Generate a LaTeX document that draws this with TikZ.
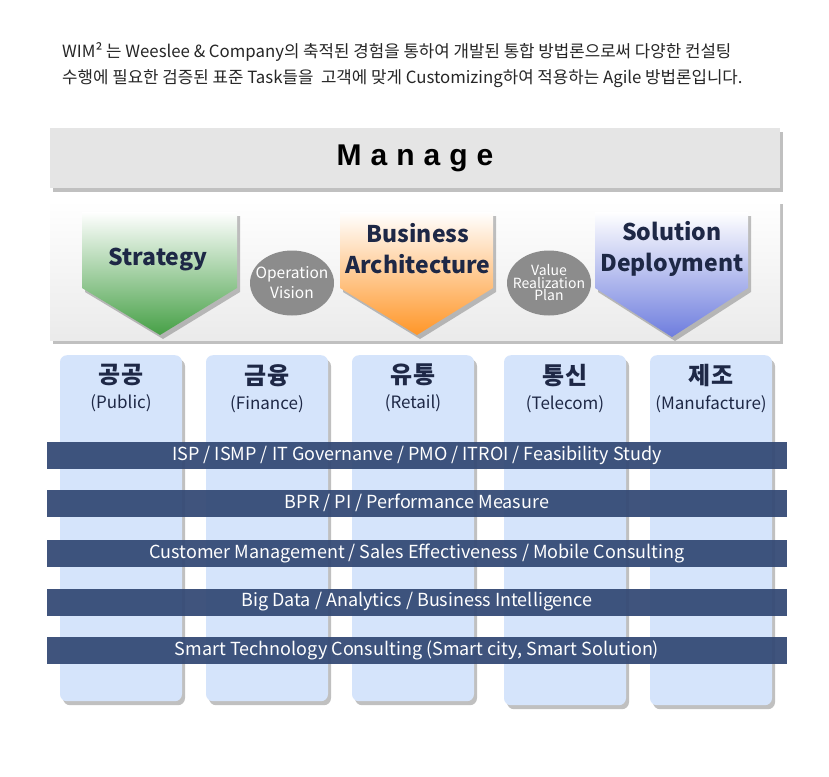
\documentclass[tikz,border=0pt]{standalone}
\usepackage{fontspec}
\setmainfont{Noto Sans CJK KR}
\newfontfamily\managefont[LetterSpace=30]{Liberation Sans}
\usetikzlibrary{shapes.geometric,shadows,positioning}
\definecolor{wimnavy}{RGB}{30,40,70}
\definecolor{wimband}{RGB}{50,72,116}
\definecolor{wimcol}{RGB}{213,228,251}
\definecolor{wimgray}{RGB}{140,140,140}
\definecolor{wimgreen}{RGB}{70,160,70}
\definecolor{wimorange}{RGB}{255,150,40}
\definecolor{wimblue}{RGB}{110,125,222}
\tikzset{
  softshadow/.style={drop shadow={shadow xshift=3pt,shadow yshift=-4pt,opacity=0.35,fill=black!70}},
  industry/.style={fill=wimcol,rounded corners=7pt,softshadow,minimum width=122pt,minimum height=346pt,anchor=north,inner sep=0pt},
  indtitle/.style={text=wimnavy,align=center,font=\fontsize{17}{25}\selectfont,inner sep=0pt},
  band/.style={fill=wimband,fill opacity=0.93,text opacity=1,text=white,minimum width=740pt,minimum height=27pt,inner sep=0pt,font=\fontsize{18}{20}\selectfont},
  bubble/.style={ellipse,fill=wimgray,text=white,minimum width=84pt,minimum height=65pt,inner sep=-12pt,align=center},
  phase/.style={text=wimnavy,align=center,font=\bfseries\fontsize{23}{31}\selectfont,inner sep=0pt}
}
\begin{document}
\begin{tikzpicture}[x=1pt,y=-1pt]
  \useasboundingbox[fill=white] (0,0) rectangle (829,776);
  % intro text
  \node[anchor=north west,align=left,text=black!85,inner sep=0pt,font=\fontsize{16.8}{26}\selectfont] (intro) at (62,42)
    {WIM² 는 Weeslee \& Company의 축적된 경험을 통하여 개발된 통합 방법론으로써 다양한 컨설팅\\
     수행에 필요한 검증된 표준 Task들을 \ 고객에 맞게 Customizing하여 적용하는 Agile 방법론입니다.};
  % manage bar and phase panel
  \node[fill=black!10,softshadow,minimum width=730pt,minimum height=60pt,inner sep=0pt] (manage) at (415,158)
    {\managefont\bfseries\fontsize{30}{34}\selectfont Manage};
  \node[top color=white,bottom color=black!8,softshadow,minimum width=730pt,minimum height=140pt,inner sep=0pt] (panel) at (415,270) {};
  % phase arrows
  \shade[top color=white,bottom color=wimgreen,softshadow] (82,212) -- (237,212) -- (237,288) -- (160,335) -- (82,288) -- cycle;
  \shade[top color=white,bottom color=wimorange,softshadow] (340,212) -- (493,212) -- (493,288) -- (417,335) -- (340,288) -- cycle;
  \shade[top color=white,bottom color=wimblue,softshadow] (595,212) -- (748,212) -- (748,288) -- (672,337) -- (595,288) -- cycle;
  \node[phase] (strat) at (158,260) {Strategy};
  \node[phase] (arch) at (418,249) {Business\\Architecture};
  \node[phase] (deploy) at (672,249) {Solution\\Deployment};
  \node[bubble,font=\fontsize{15.5}{20}\selectfont] (opvision) at (292,283) {Operation\\Vision};
  \node[bubble,font=\fontsize{14}{12.5}\selectfont] (vrplan) at (549,283) {Value\\Realization\\Plan};
  % industries
  \node[industry] (public) at (121,355) {};
  \node[industry] (finance) at (267,355) {};
  \node[industry] (retail) at (413,355) {};
  \node[industry,minimum height=350pt] (telecom) at (565,355) {};
  \node[industry,minimum height=350pt] (manuf) at (711,355) {};
  \node[indtitle,below=9pt of public.north] (publict) {{\bfseries\fontsize{24}{28}\selectfont 공공}\\(Public)};
  \node[indtitle,below=9pt of finance.north] (financet) {{\bfseries\fontsize{24}{28}\selectfont 금융}\\(Finance)};
  \node[indtitle,below=9pt of retail.north] (retailt) {{\bfseries\fontsize{24}{28}\selectfont 유통}\\(Retail)};
  \node[indtitle,below=9pt of telecom.north] (telecomt) {{\bfseries\fontsize{24}{28}\selectfont 통신}\\(Telecom)};
  \node[indtitle,below=9pt of manuf.north] (manuft) {{\bfseries\fontsize{24}{28}\selectfont 제조}\\(Manufacture)};
  % service bands
  \node[band] (isp) at (417,455) {ISP / ISMP / IT Governanve / PMO / ITROI / Feasibility Study};
  \node[band] (bpr) at (417,503) {BPR / PI / Performance Measure};
  \node[band] (crm) at (417,553) {Customer Management / Sales Effectiveness / Mobile Consulting};
  \node[band] (bigdata) at (417,602) {Big Data / Analytics / Business Intelligence};
  \node[band] (smart) at (417,650) {Smart Technology Consulting (Smart city, Smart Solution)};
\end{tikzpicture}
\end{document}
